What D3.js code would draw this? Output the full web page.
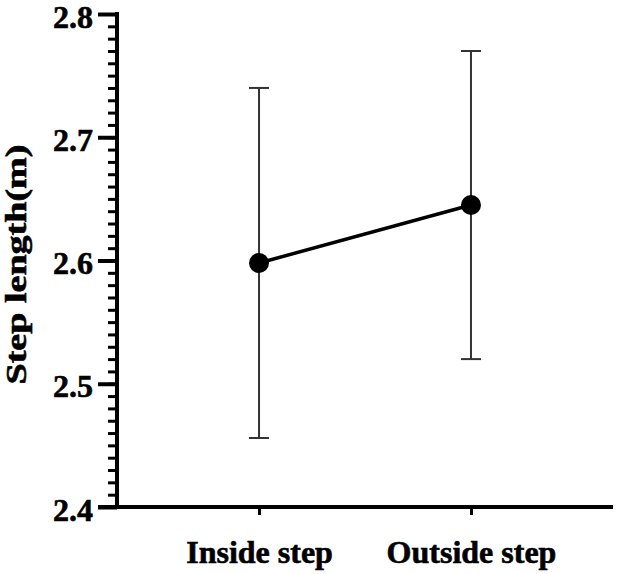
<!DOCTYPE html>
<html>
<head>
<meta charset="utf-8">
<script src="https://cdn.jsdelivr.net/npm/d3@7"></script>
<style>
  body { margin: 0; background: #fff; }
  text { font-family: "Liberation Serif", "Times New Roman", serif; font-weight: bold; fill: #000; stroke: #000; stroke-width: 0.6px; }
</style>
</head>
<body>
<svg id="chart" width="618" height="574"></svg>
<script>
// chart data
const categories = ["Inside step", "Outside step"];
const means = [2.598, 2.645];
const sds = [0.142, 0.125];
const yTicks = [2.4, 2.5, 2.6, 2.7, 2.8];

const svg = d3.select("#chart");
const plotLeft = 117, plotRight = 613, plotTop = 14, plotBottom = 507;

const x = d3.scalePoint()
    .domain(categories)
    .range([plotLeft, plotRight])
    .padding(0.67);

const y = d3.scaleLinear()
    .domain([2.4, 2.8])
    .range([plotBottom, plotTop]);

// minor y ticks every 0.01
const minor = d3.range(0, 41).map(i => 2.4 + i * 0.01);
svg.append("g")
    .attr("transform", `translate(${plotLeft},0)`)
    .call(d3.axisLeft(y).tickValues(minor).tickSize(9).tickFormat(""))
    .call(g => g.select(".domain").remove())
    .selectAll("line").attr("stroke", "#000").attr("stroke-width", 3);

// major y axis
const yAxis = svg.append("g")
    .attr("transform", `translate(${plotLeft},0)`)
    .call(d3.axisLeft(y).tickValues(yTicks).tickSize(19).tickPadding(5).tickFormat(d3.format(".1f")));
yAxis.select(".domain").attr("stroke", "#000").attr("stroke-width", 4).attr("d", `M0,${plotTop - 2}V${plotBottom}`);
yAxis.selectAll("line").attr("stroke", "#000").attr("stroke-width", 4);
yAxis.selectAll("text").style("font-size", "32px").attr("dy", "13px");

// x axis
const xAxis = svg.append("g")
    .attr("transform", `translate(0,${plotBottom})`)
    .call(d3.axisBottom(x).tickSize(8).tickPadding(26));
xAxis.select(".domain").attr("stroke", "#000").attr("stroke-width", 4).attr("d", `M${plotLeft - 19},0H${plotRight}`);
xAxis.selectAll("line").attr("stroke", "#000").attr("stroke-width", 3);
xAxis.selectAll("text").style("font-size", "32px").attr("dy", "0.68em");

// y title
svg.append("text")
    .attr("transform", `translate(26,${(plotTop + plotBottom) / 2 + 4}) rotate(-90)`)
    .attr("text-anchor", "middle")
    .style("font-size", "29px")
    .attr("textLength", 240)
    .attr("lengthAdjust", "spacingAndGlyphs")
    .text("Step length(m)");

// error bars
const bars = svg.append("g").selectAll("g")
    .data(categories)
    .join("g")
    .attr("stroke", "#333")
    .attr("stroke-width", 2);
bars.append("line")
    .attr("x1", d => x(d)).attr("x2", d => x(d))
    .attr("y1", (d, i) => y(means[i] + sds[i]))
    .attr("y2", (d, i) => y(means[i] - sds[i]));
bars.append("line")
    .attr("x1", d => x(d) - 10).attr("x2", d => x(d) + 10)
    .attr("y1", (d, i) => y(means[i] + sds[i]))
    .attr("y2", (d, i) => y(means[i] + sds[i]));
bars.append("line")
    .attr("x1", d => x(d) - 10).attr("x2", d => x(d) + 10)
    .attr("y1", (d, i) => y(means[i] - sds[i]))
    .attr("y2", (d, i) => y(means[i] - sds[i]));

// mean line and points
svg.append("path")
    .datum(categories)
    .attr("fill", "none")
    .attr("stroke", "#000")
    .attr("stroke-width", 3.5)
    .attr("d", d3.line().x(d => x(d)).y((d, i) => y(means[i])));

svg.append("g").selectAll("circle")
    .data(categories)
    .join("circle")
    .attr("cx", d => x(d))
    .attr("cy", (d, i) => y(means[i]))
    .attr("r", 10)
    .attr("fill", "#000");
</script>
</body>
</html>
